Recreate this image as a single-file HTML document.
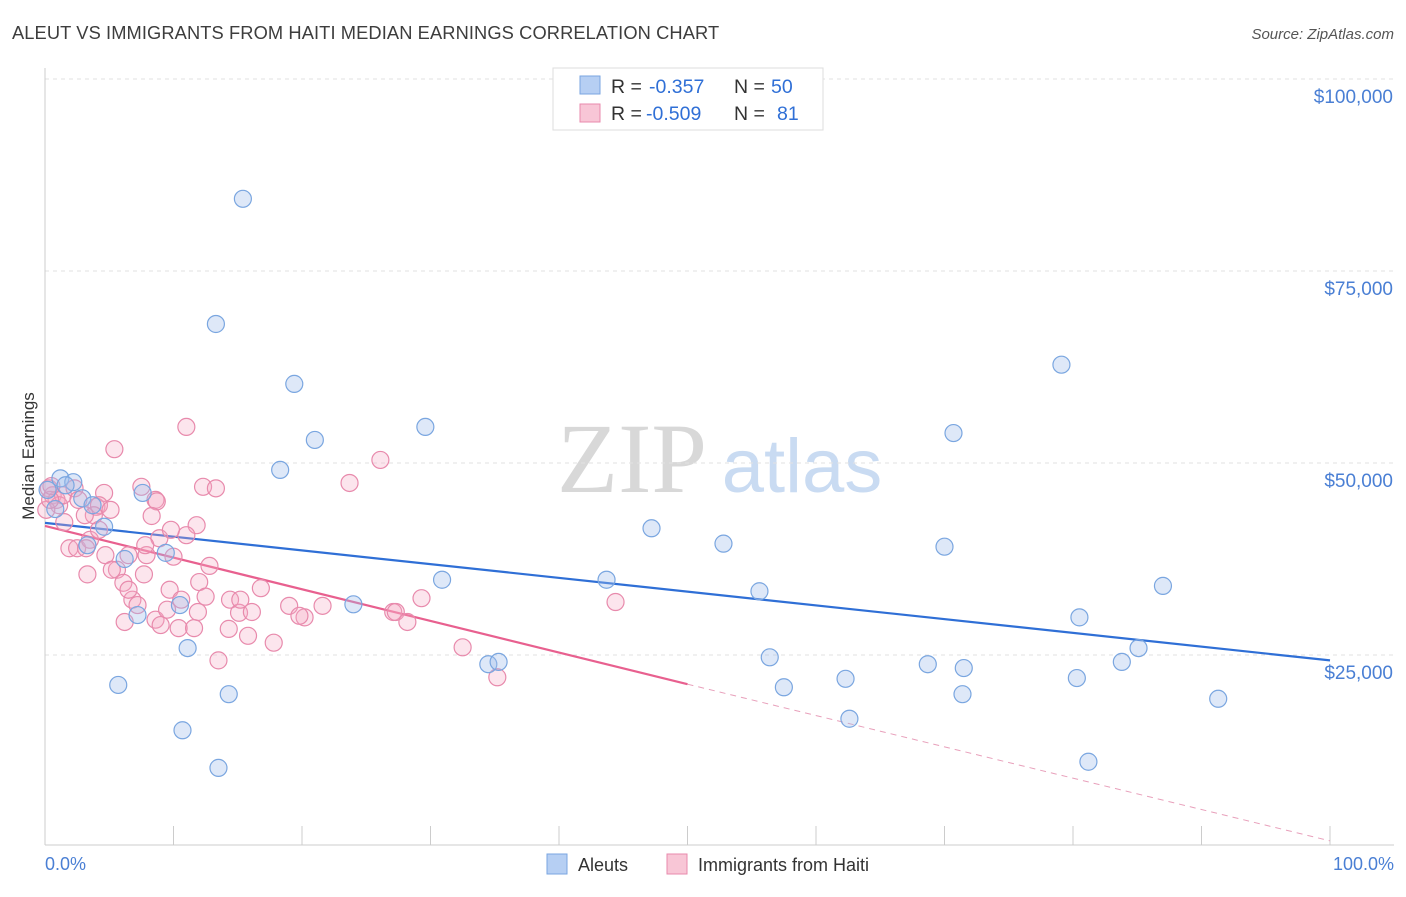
<!DOCTYPE html>
<html><head><meta charset="utf-8"><style>
body{margin:0;background:#fff;font-family:"Liberation Sans",sans-serif}
svg text{font-family:"Liberation Sans",sans-serif}
</style></head><body>
<svg id="chart" width="1406" height="892" viewBox="0 0 1406 892" xmlns="http://www.w3.org/2000/svg">
<text x="12" y="39" font-size="18.3" letter-spacing="0.1" fill="#3d3d3d">ALEUT VS IMMIGRANTS FROM HAITI MEDIAN EARNINGS CORRELATION CHART</text>
<text x="1394" y="39" font-size="15" fill="#555" text-anchor="end" font-style="italic">Source: ZipAtlas.com</text>
<g>
<text x="632" y="492" font-size="100" fill="#d8d8d8" text-anchor="middle" style="font-family:'Liberation Serif',serif">ZIP</text>
<text x="802" y="492" font-size="76" fill="#c9dbf2" text-anchor="middle">atlas</text>
</g>
<g id="grid"></g><g id="axes"></g><g id="trend"></g><g id="points"></g>
<text transform="translate(34,456) rotate(-90)" font-size="17" fill="#333" text-anchor="middle">Median Earnings</text>
<text x="45" y="870" font-size="18" fill="#4a7fd4">0.0%</text>
<text x="1394" y="870" font-size="18" fill="#4a7fd4" text-anchor="end">100.0%</text>
<g>
<rect x="553" y="68" width="270" height="62" fill="#fff" stroke="#ddd"/>
<rect x="580" y="76" width="20" height="18" fill="#b6cff3" stroke="#7aa6e0"/>
<rect x="580" y="104" width="20" height="18" fill="#f8c6d6" stroke="#e88aac"/>
<text x="611" y="93" font-size="19.5" fill="#333">R =</text>
<text x="649" y="93" font-size="19.5" fill="#2f6fd6">-0.357</text>
<text x="734" y="93" font-size="19.5" fill="#333">N =</text>
<text x="771" y="93" font-size="19.5" fill="#2f6fd6">50</text>
<text x="611" y="120" font-size="19.5" fill="#333">R =</text>
<text x="646" y="120" font-size="19.5" fill="#2f6fd6">-0.509</text>
<text x="734" y="120" font-size="19.5" fill="#333">N =</text>
<text x="777" y="120" font-size="19.5" fill="#2f6fd6">81</text>
</g>
<g>
<rect x="547" y="854" width="20" height="20" fill="#b6cff3" stroke="#7aa6e0"/>
<text x="578" y="871" font-size="18" fill="#333">Aleuts</text>
<rect x="667" y="854" width="20" height="20" fill="#f8c6d6" stroke="#e88aac"/>
<text x="698" y="871" font-size="18" fill="#333">Immigrants from Haiti</text>
</g>
</svg>
<script>
const yTicks=[25000,50000,75000,100000];
const yTickLabels=["$25,000","$50,000","$75,000","$100,000"];
const xTicks=[0,10,20,30,40,50,60,70,80,90,100];
const aleutX=[15.4,13.3,19.4,21.0,18.3,29.6,79.1,70.7,1.2,2.2,1.6,2.9,7.6,0.8,3.7,4.6,3.3,6.2,9.4,10.5,7.2,11.1,5.7,14.3,10.7,13.5,24.0,30.9,34.5,35.3,43.7,47.2,52.8,55.6,56.4,57.5,62.3,62.6,68.7,71.5,71.4,70.0,80.5,80.3,81.2,83.8,85.1,87.0,91.3,0.2];
const aleutY=[84.4,68.1,60.3,53.0,49.1,54.7,62.8,53.9,48.0,47.5,47.1,45.4,46.1,44.0,44.5,41.7,39.3,37.5,38.3,31.5,30.2,25.9,21.1,19.9,15.2,10.3,31.6,34.8,23.8,24.1,34.8,41.5,39.5,33.3,24.7,20.8,21.9,16.7,23.8,23.3,19.9,39.1,29.9,22.0,11.1,24.1,25.9,34.0,19.3,46.5];
const haitiX=[5.4,11.0,26.1,23.7,12.3,13.3,7.5,8.6,8.7,4.6,0.3,0.6,0.9,1.1,0.1,1.4,2.3,2.6,4.0,4.2,1.5,3.8,8.3,11.8,11.0,8.9,9.8,1.9,2.5,3.5,4.2,4.7,6.5,5.6,5.2,7.9,10.0,3.3,7.7,6.1,12.8,12.0,16.8,6.8,7.2,9.7,12.5,14.4,15.1,10.4,11.6,8.6,6.2,11.9,14.3,15.8,17.8,16.1,19.0,20.2,19.8,21.6,27.1,27.3,28.2,29.3,44.4,32.5,35.2,13.5,3.2,9.0,9.5,7.8,6.5,0.4,0.5,3.1,5.1,10.6,15.2];
const haitiY=[51.8,54.7,50.4,47.4,46.9,46.7,46.9,45.2,45.0,46.1,46.7,45.8,45.2,44.5,43.9,45.8,46.7,45.2,44.3,44.5,42.3,43.2,43.1,41.9,40.6,40.2,41.3,38.9,38.9,40.0,41.3,38.0,38.0,36.1,36.1,38.0,37.8,35.5,35.5,34.4,36.6,34.5,33.7,32.2,31.5,33.5,32.6,32.2,30.5,28.5,28.5,29.6,29.3,30.6,28.4,27.5,26.6,30.6,31.4,29.9,30.1,31.4,30.6,30.6,29.3,32.4,31.9,26.0,22.1,24.3,38.9,28.9,30.9,39.3,33.5,45.2,47.0,43.2,43.9,32.2,32.2];
const aleutTrend=[42.2,24.3];
const haitiTrend=[41.8,21.2,0.8];
const NS="http://www.w3.org/2000/svg";
const xs=v=>45+v*12.85;
const ys=v=>847-v*192/25000;
function mk(t,a,p){const e=document.createElementNS(NS,t);for(const k in a)e.setAttribute(k,a[k]);p.appendChild(e);return e;}
const grid=document.getElementById('grid'),axes=document.getElementById('axes'),tr=document.getElementById('trend'),pts=document.getElementById('points');
yTicks.forEach((t,i)=>{
 const l=mk('line',{x1:45,x2:1394,y1:ys(t),y2:ys(t),stroke:'#e2e2e2','stroke-dasharray':'4,4'},grid);
 
 
 const tx=mk('text',{x:1393,y:ys(t)+24,'font-size':19,fill:'#4a7fd4','text-anchor':'end'},grid);
 tx.textContent=yTickLabels[i];
 
 
});
const ax=mk('line',{x1:45,x2:1394,y1:845,y2:845,stroke:'#ccc'},axes);


const ay=mk('line',{x1:45,x2:45,y1:68,y2:845,stroke:'#ccc'},axes);


xTicks.forEach(t=>{
 const l=mk('line',{x1:xs(t),x2:xs(t),y1:826,y2:845,stroke:'#ccc'},axes);
 
 
});
const bl=mk('line',{x1:xs(0),y1:ys(aleutTrend[0]*1000),x2:xs(100),y2:ys(aleutTrend[1]*1000),stroke:'#2f6fd6','stroke-width':2.2},tr);


const pl=mk('line',{x1:xs(0),y1:ys(haitiTrend[0]*1000),x2:xs(50),y2:ys(haitiTrend[1]*1000),stroke:'#e8608f','stroke-width':2.2},tr);


const pd=mk('line',{x1:xs(50),y1:ys(haitiTrend[1]*1000),x2:xs(100),y2:ys(haitiTrend[2]*1000),stroke:'#e8a0bb','stroke-width':1,'stroke-dasharray':'6,5'},tr);


haitiX.forEach((x,i)=>{
 const c=mk('circle',{cx:xs(x),cy:ys(haitiY[i]*1000),r:8.5,fill:'rgba(245,170,195,0.3)',stroke:'#e88aac','stroke-width':1.2},pts);
 
 
});
aleutX.forEach((x,i)=>{
 const c=mk('circle',{cx:xs(x),cy:ys(aleutY[i]*1000),r:8.5,fill:'rgba(160,190,235,0.35)',stroke:'#7aa6e0','stroke-width':1.2},pts);
 
 
});
</script>
</body></html>
